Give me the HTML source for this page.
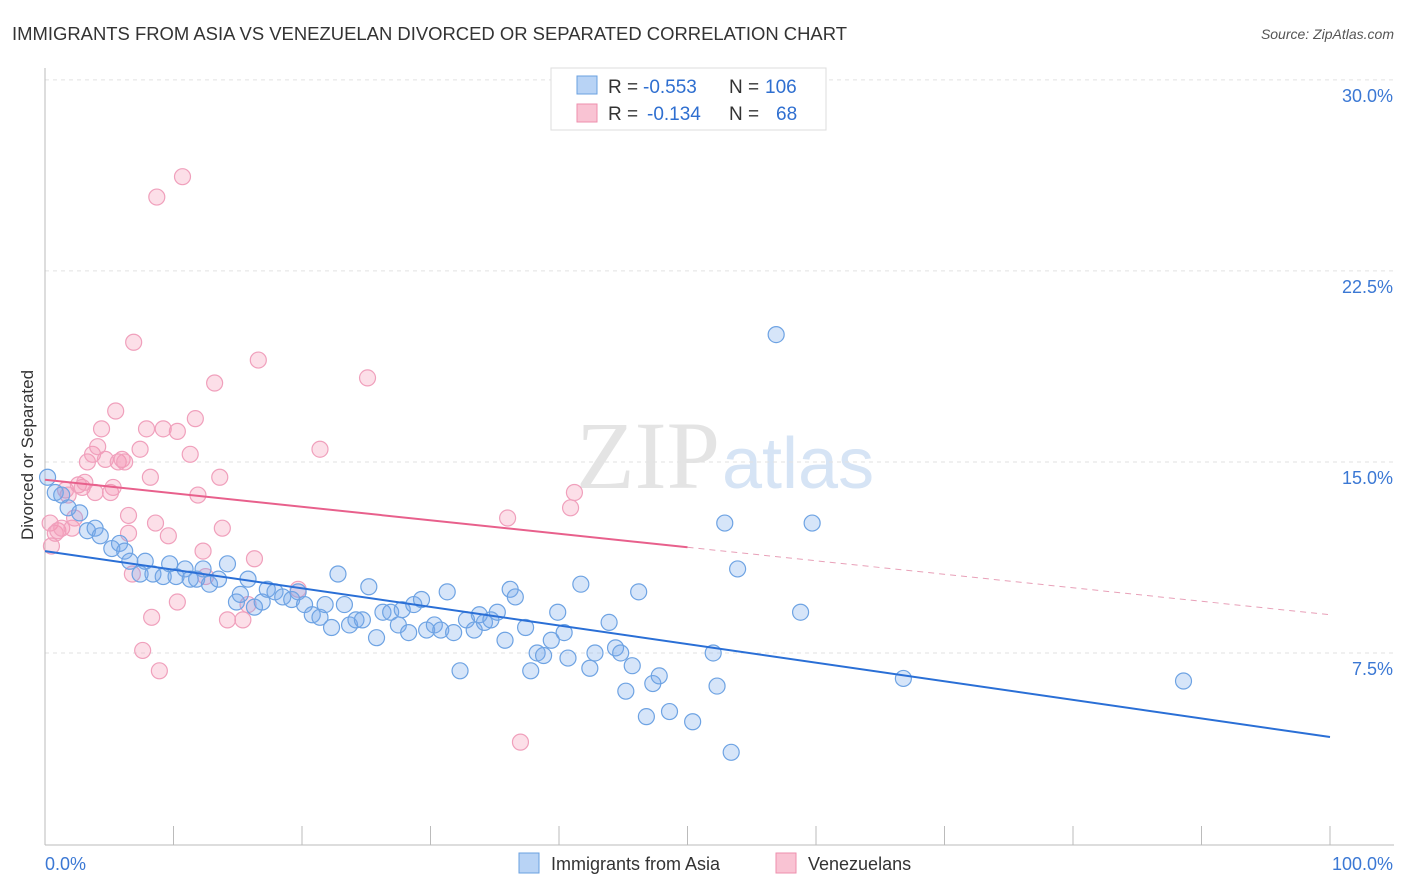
<!DOCTYPE html>
<html><head><meta charset="utf-8"><style>
body{margin:0;background:#fff;font-family:"Liberation Sans",sans-serif}
svg{display:block}
</style></head><body>
<svg id="chart" width="1406" height="892" xmlns="http://www.w3.org/2000/svg">
<text x="12" y="40" font-size="18" fill="#333" textLength="835" lengthAdjust="spacingAndGlyphs">IMMIGRANTS FROM ASIA VS VENEZUELAN DIVORCED OR SEPARATED CORRELATION CHART</text>
<text x="1394" y="39" font-size="14" fill="#555" font-style="italic" text-anchor="end">Source: ZipAtlas.com</text>
<text x="720" y="488" font-size="96" fill="#e4e4e4" text-anchor="end" font-family="Liberation Serif">ZIP</text>
<text x="722" y="488" font-size="72" fill="#d6e4f5">atlas</text>
<g id="grid"></g><g id="axes"></g><g id="marks"></g>
<text transform="translate(33,455) rotate(-90)" font-size="17" fill="#333" text-anchor="middle">Divorced or Separated</text>
<g font-size="19">
<rect x="551" y="68" width="275" height="62" fill="#fff" stroke="#ddd"/>
<rect x="577" y="76" width="20" height="18" fill="#b8d3f5" stroke="#6aa0e0"/>
<rect x="577" y="104" width="20" height="18" fill="#f9c3d3" stroke="#ee8fae"/>
<text x="608" y="93" fill="#333">R =</text>
<text x="643" y="93" fill="#2f6fd0">-0.553</text>
<text x="729" y="93" fill="#333">N =</text>
<text x="765" y="93" fill="#2f6fd0">106</text>
<text x="608" y="120" fill="#333">R =</text>
<text x="647" y="120" fill="#2f6fd0">-0.134</text>
<text x="729" y="120" fill="#333">N =</text>
<text x="776" y="120" fill="#2f6fd0">68</text>
</g>
<g>
<rect x="519" y="853" width="20" height="20" fill="#b8d3f5" stroke="#6aa0e0"/>
<text x="551" y="870" font-size="18" fill="#333">Immigrants from Asia</text>
<rect x="776" y="853" width="20" height="20" fill="#f9c3d3" stroke="#ee8fae"/>
<text x="808" y="870" font-size="18" fill="#333">Venezuelans</text>
</g>
</svg>
<script>
const yTicks=[7.5,15,22.5,30];
const yTickLabels=["7.5%","15.0%","22.5%","30.0%"];
const xTicks=[0,10,20,30,40,50,60,70,80,90,100];
const asiaX=[0.2,0.8,1.3,1.8,2.7,3.3,3.9,4.3,5.2,5.8,6.2,6.6,7.4,7.8,8.4,9.2,9.7,10.2,10.9,11.3,11.8,12.3,12.8,13.5,14.2,14.9,15.2,15.8,16.3,16.9,17.3,17.9,18.5,19.2,19.7,20.2,20.8,21.4,21.8,22.3,22.8,23.3,23.7,24.2,24.7,25.2,25.8,26.3,26.9,27.5,27.8,28.3,28.7,29.3,29.7,30.3,30.8,31.3,31.8,32.3,32.8,33.4,33.8,34.2,34.7,35.2,35.8,36.2,36.6,37.4,37.8,38.3,38.8,39.4,39.9,40.4,40.7,41.7,42.4,42.8,43.9,44.4,44.8,45.2,45.7,46.2,46.8,47.3,47.8,48.6,50.4,52.0,52.3,52.9,53.4,53.9,56.9,58.8,59.7,66.8,88.6];
const asiaY=[14.4,13.8,13.7,13.2,13.0,12.3,12.4,12.1,11.6,11.8,11.5,11.1,10.6,11.1,10.6,10.5,11.0,10.5,10.8,10.4,10.4,10.8,10.2,10.4,11.0,9.5,9.8,10.4,9.3,9.5,10.0,9.9,9.7,9.6,9.9,9.4,9.0,8.9,9.4,8.5,10.6,9.4,8.6,8.8,8.8,10.1,8.1,9.1,9.1,8.6,9.2,8.3,9.4,9.6,8.4,8.6,8.4,9.9,8.3,6.8,8.8,8.4,9.0,8.7,8.8,9.1,8.0,10.0,9.7,8.5,6.8,7.5,7.4,8.0,9.1,8.3,7.3,10.2,6.9,7.5,8.7,7.7,7.5,6.0,7.0,9.9,5.0,6.3,6.6,5.2,4.8,7.5,6.2,12.6,3.6,10.8,20.0,9.1,12.6,6.5,6.4];
const venX=[0.4,0.5,0.8,1.0,1.3,1.6,1.8,2.1,2.3,2.6,2.9,3.1,3.3,3.7,3.9,4.1,4.4,4.7,5.1,5.3,5.5,5.7,6.0,6.2,6.5,6.5,6.8,6.9,7.4,7.6,7.9,8.2,8.3,8.6,8.7,8.9,9.2,9.6,10.3,10.3,10.7,11.3,11.7,11.9,12.3,12.5,13.2,13.6,13.8,14.2,15.4,15.8,16.3,16.6,19.7,21.4,25.1,36.0,37.0,40.9,41.2];
const venY=[12.6,11.7,12.2,12.3,12.4,13.9,13.7,12.4,12.8,14.1,14.0,14.2,15.0,15.3,13.8,15.6,16.3,15.1,13.8,14.0,17.0,15.0,15.1,15.0,12.9,12.2,10.6,19.7,15.5,7.6,16.3,14.4,8.9,12.6,25.4,6.8,16.3,12.1,16.2,9.5,26.2,15.3,16.7,13.7,11.5,10.5,18.1,14.4,12.4,8.8,8.8,9.4,11.2,19.0,10.0,15.5,18.3,12.8,4.0,13.2,13.8];
const asiaFit=[11.5,4.2];
const venFit=[14.3,9.0];
const venSolidEnd=50;
const X=v=>45+v*12.85, Y=v=>844-v*25.47;
const NS="http://www.w3.org/2000/svg";
function mk(tag,attrs,parent){const e=document.createElementNS(NS,tag);for(const k in attrs)e.setAttribute(k,attrs[k]);document.getElementById(parent).appendChild(e);return e;}
yTicks.forEach((t,i)=>{
 const g=mk('line',{x1:45,x2:1394,y1:Y(t),y2:Y(t),stroke:'#e2e2e2','stroke-dasharray':'4,4'},'grid');
 
 
 const l=mk('text',{x:1393,y:Y(t)+22,'font-size':18,fill:'#3b78d4','text-anchor':'end'},'axes');
 l.textContent=yTickLabels[i];
 
 
});
const ax=mk('line',{x1:45,x2:45,y1:68,y2:845,stroke:'#bbb'},'axes');


const bx=mk('line',{x1:45,x2:1394,y1:845,y2:845,stroke:'#bbb'},'axes');


xTicks.forEach(t=>{
 const k=mk('line',{x1:X(t),x2:X(t),y1:826,y2:845,stroke:'#bbb'},'axes');
 
 
});
const xl0=mk('text',{x:45,y:870,'font-size':18,fill:'#3b78d4'},'axes');xl0.textContent='0.0%';


const xl1=mk('text',{x:1393,y:870,'font-size':18,fill:'#3b78d4','text-anchor':'end'},'axes');xl1.textContent='100.0%';


venX.forEach((x,i)=>{
 const c=mk('circle',{cx:X(x),cy:Y(venY[i]),r:8,fill:'rgba(244,150,180,0.3)',stroke:'#f0a0bc','stroke-width':1.2},'marks');
 
 
});
asiaX.forEach((x,i)=>{
 const c=mk('circle',{cx:X(x),cy:Y(asiaY[i]),r:8,fill:'rgba(120,170,235,0.3)',stroke:'#6ea3e3','stroke-width':1.2},'marks');
 
 
});
const vAt=x=>venFit[0]+(venFit[1]-venFit[0])*x/100;
const l1=mk('line',{x1:X(0),y1:Y(asiaFit[0]),x2:X(100),y2:Y(asiaFit[1]),stroke:'#2a6fd6','stroke-width':2},'marks');


const l2=mk('line',{x1:X(0),y1:Y(vAt(0)),x2:X(venSolidEnd),y2:Y(vAt(venSolidEnd)),stroke:'#e8608c','stroke-width':2},'marks');


const l3=mk('line',{x1:X(venSolidEnd),y1:Y(vAt(venSolidEnd)),x2:X(100),y2:Y(vAt(100)),stroke:'#e8a0b8','stroke-width':1,'stroke-dasharray':'6,5'},'marks');


</script>
</body></html>
